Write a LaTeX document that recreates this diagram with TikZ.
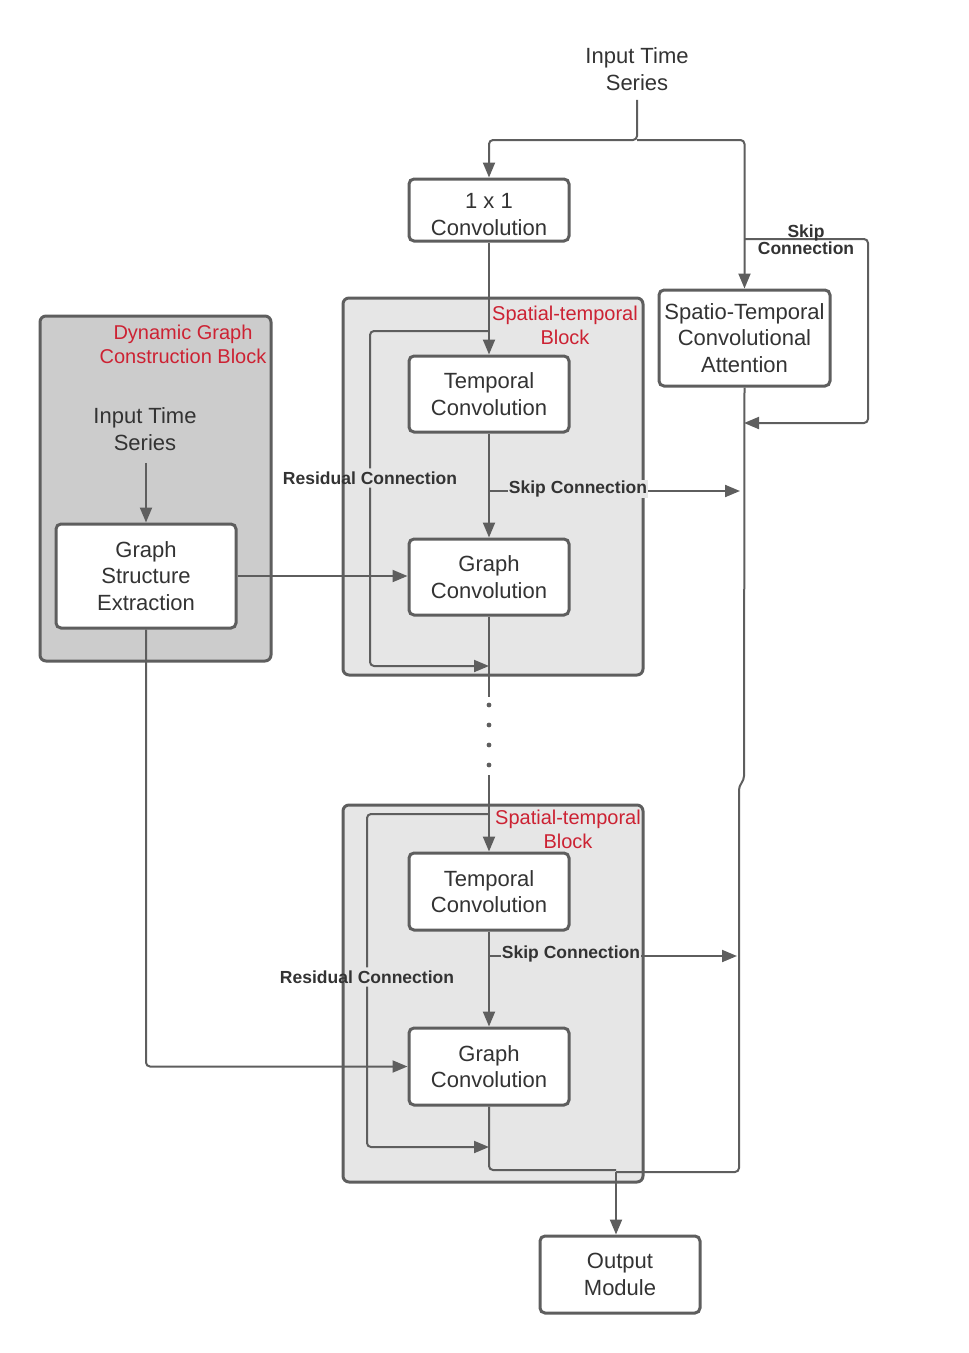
\documentclass[tikz,border=0pt]{standalone}
\usepackage{fontspec}
\setmainfont{Liberation Sans}
\usepackage{tikz}
\usetikzlibrary{positioning,arrows.meta,calc}
\usepackage{xcolor}

\definecolor{linegray}{HTML}{5E5E5E}
\definecolor{textdark}{HTML}{333333}
\definecolor{blockfill}{HTML}{E6E6E6}
\definecolor{dynfill}{HTML}{CCCCCC}
\definecolor{redtxt}{HTML}{CC2233}

\tikzset{
  boxnode/.style={draw=linegray,line width=3pt,rounded corners=5pt,fill=white,align=center,
    text=textdark,font=\fontsize{22}{26.5}\selectfont,minimum width=160pt,minimum height=77pt,inner sep=2pt},
  blockarea/.style={draw=linegray,line width=3pt,rounded corners=6pt,fill=blockfill},
  plaintext/.style={align=center,text=textdark,font=\fontsize{22}{26.5}\selectfont},
  redlabel/.style={align=center,text=redtxt,font=\fontsize{20}{24}\selectfont,inner sep=1pt},
  boldlabel/.style={text=textdark,font=\fontsize{17.5}{17}\selectfont\bfseries,inner sep=3pt},
  conn/.style={draw=linegray,line width=2pt,rounded corners=4pt},
  flow/.style={conn,-{Triangle[length=15pt,width=12pt]}}
}

\begin{document}
\begin{tikzpicture}[x=1pt,y=-1pt]
\useasboundingbox (0,0) rectangle (969,1353);

% background blocks
\node[blockarea,fill=dynfill,minimum width=231pt,minimum height=345pt] (dynBlock) at (155.5,488.5) {};
\node[blockarea,minimum width=300pt,minimum height=377pt] (stBlockA) at (493,486.5) {};
\node[blockarea,minimum width=300pt,minimum height=377pt] (stBlockB) at (493,993.5) {};

\node[redlabel] (dynTitle) at (183,344) {Dynamic Graph\\Construction Block};
\node[redlabel] (stTitleA) at (565,325) {Spatial-temporal\\Block};
\node[redlabel] (stTitleB) at (568,829) {Spatial-temporal\\Block};

% boxes
\node[plaintext] (inTop) at (637,69) {Input Time\\Series};
\node[boxnode,minimum height=62pt] (conv11) at (489,210) {};
\node[plaintext] (conv11Txt) at (489,214.5) {1 x 1\\Convolution};
\node[boxnode,minimum width=171pt,minimum height=96pt] (stca) at (744.5,338) {Spatio-Temporal\\Convolutional\\Attention};
\node[plaintext] (inDyn) at (145,429) {Input Time\\Series};
\node[boxnode,minimum width=180pt,minimum height=104pt] (gse) at (146,576) {Graph\\Structure\\Extraction};
\node[boxnode,minimum height=76pt] (tempA) at (489,394) {Temporal\\Convolution};
\node[boxnode,minimum height=76pt] (graphA) at (489,577) {Graph\\Convolution};
\node[boxnode] (tempB) at (489,891.5) {Temporal\\Convolution};
\node[boxnode] (graphB) at (489,1066.5) {Graph\\Convolution};
\node[boxnode] (output) at (620,1274.5) {Output\\Module};

% input split
\coordinate (split) at (637,140);
\draw[flow] ([yshift=-6pt]inTop.south) -- (split) -| (conv11.north);
\draw[flow] (split) -| (stca.north);

% skip around attention
\coordinate (skipTop) at (744,239);
\coordinate (skipEnd) at (744,423);
\draw[flow] (skipTop) -- (868,239) -- (868,423) -- (skipEnd);
\node[boldlabel,align=center] (skipTopLbl) at (806,240) {Skip\\Connection};

% right trunk to output
\coordinate (outTap) at (616,1172);
\draw[conn] (stca.south) -- (744,780) -- (739,786) -- (739,1172) -- (outTap);

% first spatial-temporal block
\draw[flow] (conv11.south) -- (tempA.north);
\draw[flow] (tempA.south) -- (graphA.north);
\node[boldlabel] (resLblA) at (370,478) {Residual Connection};
\draw[conn] (489,331) -| (resLblA.north);
\draw[flow] (resLblA.south) |- (489,666);
\draw[flow] (489,491) -- (740,491);
\node[boldlabel,fill=blockfill,inner sep=1pt] (skipLblA) at (578,489) {Skip Connection};

% graph structure links
\draw[flow] ([yshift=-9pt]inDyn.south -| gse.north) -- (gse.north);
\draw[flow] (gse.east) -- (gse.east -| graphA.west);
\draw[flow] (gse.south) |- (graphB.west);

% dots between blocks
\draw[conn] (graphA.south) -- (489,697);
\foreach \y in {705,725,745,765}
  \fill[linegray] (489,\y) circle (2.4);
\coordinate (dotsEnd) at (489,775);
\draw[flow] (dotsEnd) -- (tempB.north);

% second spatial-temporal block
\draw[flow] (tempB.south) -- (graphB.north);
\node[boldlabel] (resLblB) at (367,977) {Residual Connection};
\draw[conn] (489,814) -| (resLblB.north);
\draw[flow] (resLblB.south) |- (489,1147);
\draw[flow] (489,956) -- (737,956);
\node[boldlabel,fill=blockfill,inner sep=1pt] (skipLblB) at (571,954) {Skip Connection};

% to output
\draw[conn] (graphB.south) -- (489,1170) -- (616,1170);
\draw[flow] (outTap) -- (outTap |- output.north);
\end{tikzpicture}
\end{document}
